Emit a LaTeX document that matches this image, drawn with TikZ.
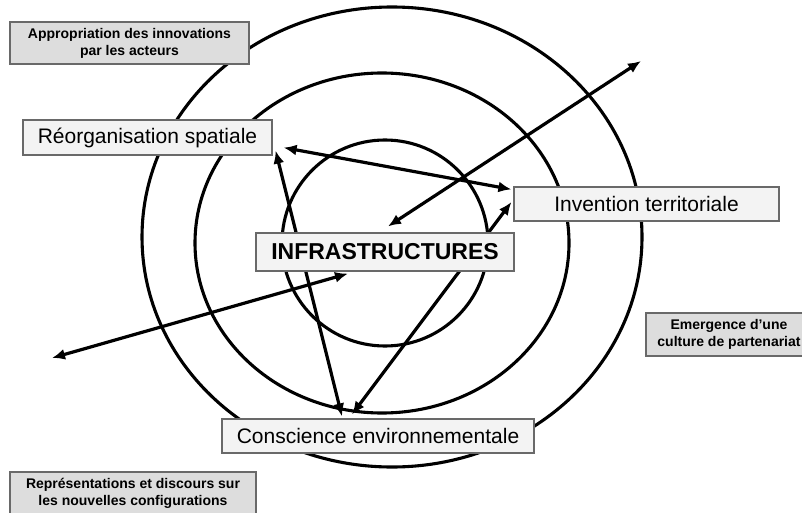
\documentclass[tikz,border=0pt]{standalone}
\usepackage{fontspec}
\setmainfont{Liberation Sans}
\usetikzlibrary{arrows.meta,backgrounds}

\definecolor{boxgray}{RGB}{221,221,221}
\definecolor{boxlight}{RGB}{243,243,243}
\definecolor{edgegray}{RGB}{105,105,105}

\tikzset{
  level/.style={draw=edgegray,fill=boxlight,line width=1.2pt,inner sep=0pt,
    font=\fontsize{21}{25}\selectfont},
  side/.style={draw=edgegray,fill=boxgray,line width=1.2pt,inner sep=0pt,
    align=center,font=\fontsize{14}{17}\selectfont\bfseries},
  link/.style={<->,line width=3.2pt},
  ring/.style={line width=3.1pt}
}

\begin{document}
\begin{tikzpicture}[x=1pt,y=-1pt,>={Latex[length=13pt,width=11pt]}]
\useasboundingbox (0,0) rectangle (802,513);

\node [side,minimum width=239pt,minimum height=42pt] (appr) at (129.5,43)
  {Appropriation des innovations\\par les acteurs};
\node [side,minimum width=166pt,minimum height=43pt] (emer) at (729,334.5)
  {Emergence d'une\\culture de partenariat};
\node [side,minimum width=246pt,minimum height=42pt] (repr) at (133,493)
  {Représentations et discours sur\\les nouvelles configurations};

\node [level,minimum width=249pt,minimum height=35pt] (reo) at (147.5,137.5) {Réorganisation spatiale};
\node [level,minimum width=265pt,minimum height=34pt] (inv) at (646.5,204) {Invention territoriale};
\node [level,minimum width=258pt,minimum height=38pt,
  font=\fontsize{23}{27}\selectfont\bfseries] (infra) at (385,252) {INFRASTRUCTURES};
\node [level,minimum width=312pt,minimum height=34pt] (cons) at (378,436) {Conscience environnementale};

\coordinate (ne) at (641,61);
\coordinate (sw) at (52,358);

\begin{pgfonlayer}{background}
\draw [ring] (392,237) ellipse (250 and 230);
\draw [ring] (382,243) ellipse (187 and 170);
\draw [ring] (385,243) circle (103);

\draw [link] ([shift={(3,-6)}]infra.north) -- (ne);
\draw [link] ([shift={(-37,2)}]infra.south) -- (sw);
\draw [link] ([shift={(11,-8)}]reo.south east) -- ([shift={(-2,3)}]inv.north west);
\draw [link] ([shift={(3,-5)}]reo.south east) -- ([shift={(-36,-2)}]cons.north);
\draw [link] ([shift={(-26,-4)}]cons.north) -- ([shift={(-2,-2)}]inv.west);
\end{pgfonlayer}
\end{tikzpicture}
\end{document}
